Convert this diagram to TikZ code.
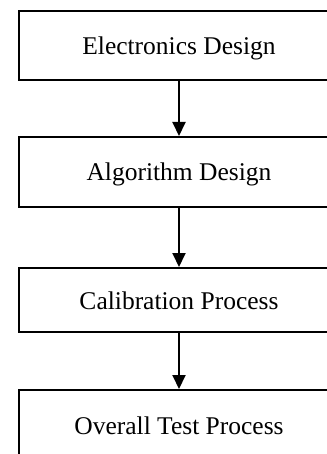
\documentclass[tikz,border=0pt]{standalone}
\usepackage{fontspec}
\setmainfont{Liberation Serif}
\usetikzlibrary{arrows.meta}
\begin{document}
\begin{tikzpicture}[x=1pt,y=-1pt,
  stagebox/.style={draw=black, line width=2pt, minimum width=320pt, inner sep=0pt, text height=22pt, text depth=4pt, font=\fontsize{25.5}{28}\selectfont},
  flowarrow/.style={line width=2pt, -{Triangle[length=14pt,width=13pt]}}]
\useasboundingbox (0,0) rectangle (326,454);
\node[stagebox, minimum height=69pt] (b1) at (179,45.5) {Electronics Design};
\node[stagebox, minimum height=70pt] (b2) at (179,172) {Algorithm Design};
\node[stagebox, minimum height=64pt] (b3) at (179,300) {Calibration Process};
\node[stagebox, minimum height=70pt] (b4) at (179,425) {Overall Test Process};
\draw[flowarrow] (b1.south) -- (b2.north);
\draw[flowarrow] (b2.south) -- (b3.north);
\draw[flowarrow] (b3.south) -- (b4.north);
\end{tikzpicture}
\end{document}
